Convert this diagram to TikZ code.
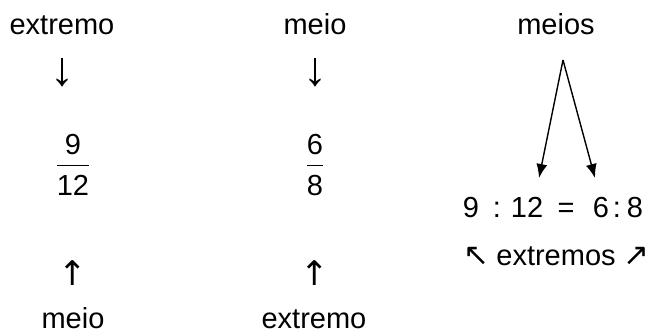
\documentclass[tikz,border=0pt]{standalone}
\usepackage{amsmath}
\usepackage{fontspec}
\setmainfont{Liberation Sans}
\newfontfamily\arrowfont{DejaVu Sans}
\usetikzlibrary{arrows.meta}
\newcommand{\fracgap}[2]{$\dfrac{\text{#1}\rule[-5pt]{0pt}{5pt}}{\rule{0pt}{27pt}\text{#2}}$}

\begin{document}
\begin{tikzpicture}[x=1pt,y=-1pt,
  every node/.style={inner sep=0pt,font=\fontsize{29}{34}\selectfont},
  word/.style={anchor=base},
  thinarrow/.style={font=\fontsize{48}{56}\selectfont},
  boldarrow/.style={font=\arrowfont\fontsize{34}{40}\selectfont},
  frac/.style={font=\fontsize{29}{34}\selectfont}]
  \useasboundingbox (0,0) rectangle (653,334);
  \node[word] (e1) at (62,35) {extremo};
  \node[thinarrow] (d1) at (62,73) {↓};
  \node[frac] (f1) at (73,165) {\fracgap{9}{12}};
  \node[boldarrow] (u1) at (73,273) {↑};
  \node[word] (m1) at (73,328) {meio};
  \node[word] (m2) at (315,35) {meio};
  \node[thinarrow] (d2) at (315,73) {↓};
  \node[frac] (f2) at (315,165) {\fracgap{6}{8}};
  \node[boldarrow] (u2) at (315,273) {↑};
  \node[word] (e2) at (314,328) {extremo};
  \node[word] (ms) at (556,35) {meios};
  \coordinate (vt) at (563,60);
  \coordinate (t1) at (539,178);
  \coordinate (t2) at (595,178);
  \foreach \t in {t1,t2}{\draw[-{Latex[length=14pt,width=11pt]},line width=1.4pt] (vt)--(\t);}
  \foreach \n/\x/\s in {p1/471/9,p2/497/:,p3/527/12,p4/566/=,p5/601/6,p6/617/:,p7/635/8}{\node[word] (\n) at (\x,217) {\s};}
  \node[boldarrow,font=\arrowfont\fontsize{31}{36}\selectfont] (x1) at (476,256) {↖};
  \node[word] (ex) at (556,265) {extremos};
  \node[boldarrow,font=\arrowfont\fontsize{31}{36}\selectfont] (x2) at (636,256) {↗};
\end{tikzpicture}
\end{document}
